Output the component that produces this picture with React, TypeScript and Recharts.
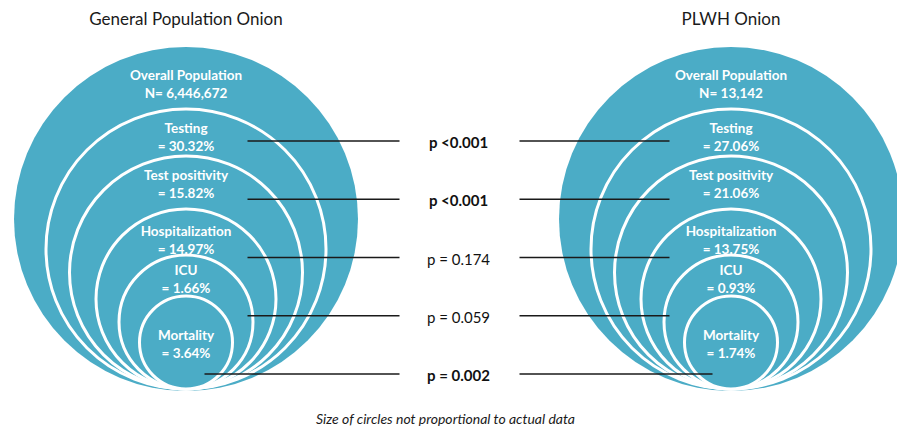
import { ScatterChart, Scatter, XAxis, YAxis } from "recharts";

// onions (columns) and layers (rings, outer to inner)
const onions = ["General Population Onion", "PLWH Onion"];
const layers = ["Overall Population", "Testing", "Test positivity", "Hospitalization", "ICU", "Mortality"];
const generalValues = ["N= 6,446,672", "= 30.32%", "= 15.82%", "= 14.97%", "= 1.66%", "= 3.64%"];
const plwhValues = ["N= 13,142", "= 27.06%", "= 21.06%", "= 13.75%", "= 0.93%", "= 1.74%"];

// comparisons between the two onions
const comparisons = ["Testing", "Test positivity", "Hospitalization", "ICU", "Mortality"];
const pValues = ["p <0.001", "p <0.001", "p = 0.174", "p = 0.059", "p = 0.002"];
const pSignificant = [true, true, false, false, true];

// layout only: circles are not proportional to data
const RING_DIAMETER = [344, 282, 235, 182, 136, 95];
const LABEL_OFFSET = [28, 19, 19, 22, 15, 39];
const LINE_REACH = [211, 211, 211, 211, 254];

const W = 897;
const H = 427;
const MARGIN = { top: 1, right: 166, bottom: 36, left: 186 };
const BASE = H - MARGIN.bottom;
const TEAL = "#4BACC6";
const FONT = "Lato, 'Open Sans', sans-serif";

const ringData = layers.map((name, i) =>
  onions.map((onion, j) => ({
    onion,
    size: RING_DIAMETER[i],
    name,
    value: j === 0 ? generalValues[i] : plwhValues[i],
    level: i,
  }))
);

const pData = comparisons.map((comparison, i) => ({
  col: "p",
  comparison,
  p: pValues[i],
  bold: pSignificant[i],
  row: i,
}));

function Ring(props: any) {
  const { cx, cy, payload } = props;
  const outer = payload.level === 0;
  const bottom = outer ? BASE : BASE - 2;
  const r = (bottom - cy) / 2;
  const ty = cy + LABEL_OFFSET[payload.level];
  return (
    <g>
      <circle
        cx={cx}
        cy={cy + r}
        r={r}
        fill={TEAL}
        stroke={outer ? "none" : "#ffffff"}
        strokeWidth={3}
      />
      <text
        x={cx}
        y={ty}
        textAnchor="middle"
        dominantBaseline="central"
        fill="#ffffff"
        fontWeight={700}
        fontSize={13.5}
        fontFamily={FONT}
      >
        <tspan x={cx} y={ty}>{payload.name}</tspan>
        <tspan x={cx} y={ty + 18}>{payload.value}</tspan>
      </text>
    </g>
  );
}

function PRow(props: any) {
  const { cx, cy, payload } = props;
  const reach = LINE_REACH[payload.row];
  return (
    <g>
      <line x1={cx - reach} x2={cx - 59} y1={cy} y2={cy} stroke="#1a1a1a" strokeWidth={1.5} />
      <line x1={cx + 61} x2={cx + reach} y1={cy} y2={cy} stroke="#1a1a1a" strokeWidth={1.5} />
      <text
        x={cx}
        y={cy + 1}
        textAnchor="middle"
        dominantBaseline="central"
        fill="#111111"
        fontWeight={payload.bold ? 700 : 400}
        fontSize={15}
        fontFamily={FONT}
      >
        {payload.p}
      </text>
    </g>
  );
}

function OnionTitle(props: any) {
  const { x, payload } = props;
  return (
    <text x={x} y={18} textAnchor="middle" dominantBaseline="central" fontSize={17} fill="#1a1a1a" fontFamily={FONT}>
      {payload.value}
    </text>
  );
}

export default function App() {
  return (
    <div style={{ position: "absolute", left: 0, top: 0, width: W, height: H, background: "#ffffff" }}>
      <ScatterChart width={W} height={H} margin={MARGIN}>
        <XAxis
          xAxisId="onion"
          dataKey="onion"
          type="category"
          scale="point"
          orientation="top"
          height={30}
          allowDuplicatedCategory={false}
          axisLine={false}
          tickLine={false}
          tick={<OnionTitle />}
        />
        <YAxis yAxisId="ring" dataKey="size" type="number" domain={[0, 360]} hide />
        <XAxis xAxisId="p" dataKey="col" type="category" scale="point" allowDuplicatedCategory={false} hide />
        <YAxis
          yAxisId="row"
          dataKey="comparison"
          type="category"
          scale="point"
          reversed
          allowDuplicatedCategory={false}
          padding={{ top: 110, bottom: 17 }}
          hide
        />
        {ringData.map((data, i) => (
          <Scatter
            key={layers[i]}
            data={data}
            xAxisId="onion"
            yAxisId="ring"
            shape={<Ring />}
            isAnimationActive={false}
          />
        ))}
        <Scatter data={pData} xAxisId="p" yAxisId="row" shape={<PRow />} isAnimationActive={false} />
      </ScatterChart>
      <div
        style={{
          position: "absolute",
          left: 0,
          top: 410,
          width: W - 6,
          textAlign: "center",
          fontFamily: FONT,
          fontStyle: "italic",
          fontSize: 14,
          color: "#1a1a1a",
        }}
      >
        Size of circles not proportional to actual data
      </div>
    </div>
  );
}
